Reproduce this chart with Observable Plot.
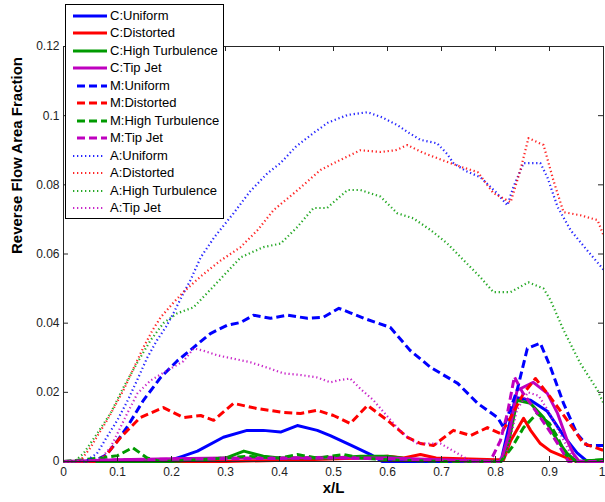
<!DOCTYPE html>
<html><head><meta charset="utf-8">
<script src="https://cdn.jsdelivr.net/npm/d3@7"></script>
<script src="https://cdn.jsdelivr.net/npm/@observablehq/plot@0.6"></script>
<style>
body{margin:0;background:#fff;}
#wrap{position:relative;width:605px;height:502px;font-family:"Liberation Sans",Arial,sans-serif;}
#wrap > svg{position:absolute;left:0;top:0;}
#legend{position:absolute;left:65px;top:4px;width:157px;height:213px;border:1px solid #000;background:#fff;box-sizing:content-box;}
#legend .item{position:absolute;left:0;height:16px;width:157px;}
#legend .item svg{position:absolute;left:0;top:0;}
#legend .item span{position:absolute;left:44px;top:0;font-size:13px;line-height:16px;color:#000;white-space:nowrap;}
</style></head><body><div id="wrap"></div><script>
// ---- data (x/L, reverse flow area fraction) ----
const xTicks = [0, 0.1, 0.2, 0.3, 0.4, 0.5, 0.6, 0.7, 0.8, 0.9, 1];
const yTicks = [0, 0.02, 0.04, 0.06, 0.08, 0.1, 0.12];
const xLabel = "x/L";
const yLabel = "Reverse Flow Area Fraction";

const cUniform = [[0,0],[0.19,0],[0.22,0.0015],[0.248,0.003],[0.296,0.007],[0.34,0.009],[0.37,0.009],[0.402,0.0085],[0.433,0.0104],[0.47,0.009],[0.494,0.0075],[0.531,0.0048],[0.569,0.002],[0.59,0],[0.81,0],[0.837,0.0185],[0.865,0.0177],[0.896,0.0145],[0.926,0.0075],[0.951,0.0025],[0.97,0],[1,0]];
const cDistorted = [[0,0],[0.3,0],[0.45,0.0005],[0.55,0.001],[0.6,0.0015],[0.63,0.001],[0.661,0.002],[0.69,0.001],[0.8,0.0005],[0.815,0.0005],[0.828,0.006],[0.852,0.0125],[0.865,0.009],[0.883,0.0052],[0.902,0.003],[0.933,0.001],[0.95,0],[1,0]];
const cHighTurb = [[0,0],[0.2,0],[0.25,0.0005],[0.3,0.001],[0.334,0.003],[0.37,0.0015],[0.4,0.001],[0.5,0.001],[0.55,0.0015],[0.6,0.0015],[0.65,0.0005],[0.81,0],[0.825,0.006],[0.84,0.0177],[0.865,0.0168],[0.889,0.0127],[0.915,0.006],[0.933,0.0023],[0.95,0],[1,0.0005]];
const cTipJet = [[0,0],[0.1,0.0005],[0.2,0.0008],[0.3,0.001],[0.4,0.001],[0.5,0.0012],[0.55,0.001],[0.6,0.001],[0.7,0.0005],[0.81,0],[0.825,0.008],[0.84,0.0206],[0.87,0.0229],[0.896,0.0197],[0.915,0.0139],[0.933,0.006],[0.944,0.0023],[0.955,0],[1,0]];

const mUniform = [[0,0],[0.056,0],[0.08,0.002],[0.1,0.006],[0.118,0.01],[0.148,0.0177],[0.18,0.0243],[0.21,0.029],[0.241,0.033],[0.272,0.037],[0.303,0.0394],[0.328,0.0402],[0.352,0.0423],[0.383,0.0414],[0.415,0.0423],[0.452,0.0414],[0.481,0.0417],[0.51,0.0443],[0.531,0.043],[0.556,0.0414],[0.605,0.0388],[0.642,0.0321],[0.68,0.0272],[0.73,0.0226],[0.767,0.0168],[0.804,0.0127],[0.815,0.0098],[0.84,0.0206],[0.859,0.0327],[0.883,0.0342],[0.902,0.0272],[0.926,0.0168],[0.951,0.008],[0.97,0.0046],[1,0.0046]];
const mDistorted = [[0,0],[0.06,0],[0.074,0.001],[0.106,0.007],[0.142,0.0127],[0.185,0.0156],[0.222,0.0127],[0.254,0.0133],[0.278,0.0119],[0.315,0.0168],[0.359,0.0153],[0.407,0.0142],[0.439,0.0139],[0.47,0.0148],[0.5,0.0133],[0.531,0.011],[0.563,0.0162],[0.6,0.0119],[0.637,0.007],[0.661,0.0052],[0.685,0.0046],[0.722,0.009],[0.754,0.0075],[0.785,0.0098],[0.81,0.008],[0.828,0.0127],[0.852,0.0197],[0.874,0.024],[0.902,0.0185],[0.933,0.0119],[0.963,0.0052],[1,0.0032]];
const mHighTurb = [[0,0],[0.069,0.001],[0.1,0.0017],[0.128,0.004],[0.155,0.001],[0.18,0],[0.25,0.0005],[0.3,0.001],[0.34,0.0015],[0.4,0.001],[0.433,0.002],[0.47,0.001],[0.52,0.002],[0.55,0.001],[0.6,0.0005],[0.7,0],[0.81,0],[0.83,0.004],[0.852,0.0098],[0.877,0.0139],[0.9,0.011],[0.915,0.007],[0.93,0.002],[0.95,0],[1,0.0005]];
const mTipJet = [[0,0],[0.1,0.0005],[0.3,0.0008],[0.5,0.001],[0.6,0.0008],[0.7,0.0003],[0.79,0],[0.809,0.006],[0.822,0.0139],[0.835,0.0245],[0.85,0.02],[0.87,0.0156],[0.896,0.0098],[0.92,0.004],[0.935,0],[1,0]];

const aUniform = [[0,0],[0.04,0],[0.062,0.0023],[0.08,0.007],[0.1,0.012],[0.12,0.018],[0.136,0.0234],[0.155,0.03],[0.173,0.035],[0.19,0.039],[0.204,0.043],[0.22,0.048],[0.235,0.0524],[0.254,0.059],[0.28,0.065],[0.315,0.0718],[0.345,0.078],[0.378,0.0834],[0.402,0.0863],[0.43,0.091],[0.463,0.095],[0.49,0.098],[0.526,0.1002],[0.563,0.101],[0.59,0.0995],[0.618,0.0973],[0.64,0.095],[0.661,0.093],[0.692,0.092],[0.71,0.089],[0.722,0.0863],[0.745,0.084],[0.772,0.0822],[0.8,0.078],[0.822,0.0741],[0.833,0.0793],[0.852,0.0863],[0.883,0.0863],[0.896,0.0822],[0.915,0.0736],[0.939,0.0669],[0.97,0.061],[1,0.0555]];
const aDistorted = [[0,0],[0.03,0],[0.05,0.004],[0.065,0.008],[0.081,0.012],[0.095,0.016],[0.111,0.0206],[0.13,0.027],[0.148,0.033],[0.165,0.038],[0.18,0.0417],[0.204,0.046],[0.222,0.049],[0.254,0.0535],[0.29,0.058],[0.328,0.062],[0.36,0.067],[0.389,0.0727],[0.43,0.078],[0.476,0.0843],[0.51,0.087],[0.55,0.09],[0.587,0.0895],[0.615,0.09],[0.637,0.0915],[0.667,0.0892],[0.711,0.0866],[0.74,0.085],[0.767,0.0837],[0.796,0.0776],[0.828,0.075],[0.846,0.0842],[0.861,0.0935],[0.875,0.0925],[0.889,0.0915],[0.907,0.0814],[0.926,0.0721],[0.957,0.0712],[0.989,0.0698],[1,0.0654]];
const aHighTurb = [[0,0],[0.02,0],[0.037,0.0023],[0.062,0.008],[0.087,0.0139],[0.111,0.0214],[0.136,0.0284],[0.161,0.035],[0.185,0.04],[0.21,0.0428],[0.241,0.0446],[0.28,0.051],[0.328,0.059],[0.37,0.062],[0.402,0.063],[0.433,0.0678],[0.463,0.0733],[0.488,0.0733],[0.526,0.0785],[0.55,0.0785],[0.587,0.0766],[0.618,0.0718],[0.648,0.0703],[0.68,0.0669],[0.711,0.063],[0.741,0.0582],[0.772,0.0533],[0.796,0.049],[0.828,0.049],[0.861,0.0518],[0.889,0.05],[0.902,0.0466],[0.926,0.038],[0.957,0.0284],[0.989,0.0206],[1,0.0168]];
const aTipJet = [[0,0],[0.05,0],[0.07,0.001],[0.087,0.004],[0.118,0.0139],[0.137,0.0197],[0.161,0.0234],[0.192,0.0263],[0.222,0.029],[0.241,0.0327],[0.26,0.032],[0.285,0.0307],[0.346,0.0287],[0.38,0.027],[0.407,0.0255],[0.44,0.025],[0.47,0.0243],[0.494,0.0229],[0.51,0.0235],[0.531,0.024],[0.55,0.021],[0.574,0.0177],[0.6,0.013],[0.618,0.0098],[0.637,0.007],[0.655,0.0052],[0.698,0.0052],[0.73,0.0023],[0.75,0.0005],[0.8,0],[0.82,0.002],[0.84,0.015],[0.86,0.02],[0.88,0.019],[0.9,0.014],[0.92,0.008],[0.94,0.002],[0.96,0],[1,0]];

const seriesNames = ["C:Uniform","C:Distorted","C:High Turbulence","C:Tip Jet","M:Uniform","M:Distorted","M:High Turbulence","M:Tip Jet","A:Uniform","A:Distorted","A:High Turbulence","A:Tip Jet"];
const seriesData = [cUniform,cDistorted,cHighTurb,cTipJet,mUniform,mDistorted,mHighTurb,mTipJet,aUniform,aDistorted,aHighTurb,aTipJet];
const palette = ["#0000ff","#ff0000","#009a00","#bf00bf"];
const styles = {
  solid: {strokeWidth: 3, strokeDasharray: null, opacity: 1},
  dashed: {strokeWidth: 3, strokeDasharray: "8,4", opacity: 1},
  dotted: {strokeWidth: 2.2, strokeDasharray: "1.3,2.7", opacity: 0.85}
};
const styleOf = i => i < 4 ? "solid" : i < 8 ? "dashed" : "dotted";

const rows = seriesNames.flatMap((name, i) => seriesData[i].map(([x, y]) => ({name, x, y})));

const lineMarks = seriesNames.map((name, i) => {
  const st = styles[styleOf(i)];
  return Plot.line(rows.filter(r => r.name === name), {
    x: "x", y: "y", stroke: palette[i % 4],
    strokeWidth: st.strokeWidth, strokeDasharray: st.strokeDasharray,
    strokeOpacity: st.opacity, strokeLinejoin: "round", strokeLinecap: "butt"
  });
});

const W = 605, H = 502, ML = 63, MR = 2, MT = 46, MB = 41;
const PW = W - ML - MR, PH = H - MT - MB, TL = 5;
const lastX = xTicks[xTicks.length - 1];

const chart = Plot.plot({
  width: W, height: H,
  marginLeft: ML, marginRight: MR, marginTop: MT, marginBottom: MB,
  style: {fontFamily: "Liberation Sans, Arial, sans-serif", fontSize: "12px", background: "white", overflow: "visible"},
  x: {domain: [0, 1]},
  y: {domain: [0, 0.12]},
  marks: [
    ...lineMarks,
    Plot.frame({stroke: "#262626", strokeWidth: 1}),
    Plot.tickY(yTicks, {y: d => d, insetRight: PW - TL, stroke: "#262626"}),
    Plot.tickY(yTicks, {y: d => d, insetLeft: PW - TL, stroke: "#262626"}),
    Plot.tickX(xTicks, {x: d => d, insetTop: PH - TL, stroke: "#262626"}),
    Plot.tickX(xTicks, {x: d => d, insetBottom: PH - TL, stroke: "#262626"}),
    Plot.axisX(xTicks.filter(d => d !== lastX), {tickSize: 0, tickPadding: 6, tickFormat: d => String(d), fill: "#222", fontSize: 12, label: null}),
    Plot.axisX([lastX], {tickSize: 0, tickPadding: 6, tickFormat: d => String(d), fill: "#222", fontSize: 12, label: null, textAnchor: "end", dx: 2}),
    Plot.axisY(yTicks, {tickSize: 0, tickPadding: 4, tickFormat: d => String(d), fill: "#222", fontSize: 12, label: null}),
    Plot.text([yLabel], {text: d => d, frameAnchor: "left", dx: -46, rotate: -90, fontWeight: "bold", fontSize: 15, fill: "#000"}),
    Plot.text([xLabel], {text: d => d, frameAnchor: "bottom", dy: 31, fontWeight: "bold", fontSize: 15, fill: "#000"})
  ]
});

const wrap = document.getElementById("wrap");
wrap.appendChild(chart);

// legend overlay
const legend = document.createElement("div");
legend.id = "legend";
const ns = "http://www.w3.org/2000/svg";
seriesNames.forEach((name, i) => {
  const st = styleOf(i);
  const item = document.createElement("div");
  item.className = "item";
  item.style.top = (2.7 + i * 17.5) + "px";
  const s = document.createElementNS(ns, "svg");
  s.setAttribute("width", 44); s.setAttribute("height", 16);
  const l = document.createElementNS(ns, "line");
  const x1 = st === "dashed" ? 11 : 7, x2 = st === "dotted" ? 37 : 41;
  l.setAttribute("x1", x1); l.setAttribute("x2", x2);
  l.setAttribute("y1", 8); l.setAttribute("y2", 8);
  l.setAttribute("stroke", palette[i % 4]);
  l.setAttribute("stroke-width", styles[st].strokeWidth);
  if (styles[st].strokeDasharray) l.setAttribute("stroke-dasharray", styles[st].strokeDasharray);
  l.setAttribute("stroke-opacity", styles[st].opacity);
  s.appendChild(l);
  const t = document.createElement("span");
  t.textContent = name;
  item.appendChild(s); item.appendChild(t);
  legend.appendChild(item);
});
wrap.appendChild(legend);
</script></body></html>
